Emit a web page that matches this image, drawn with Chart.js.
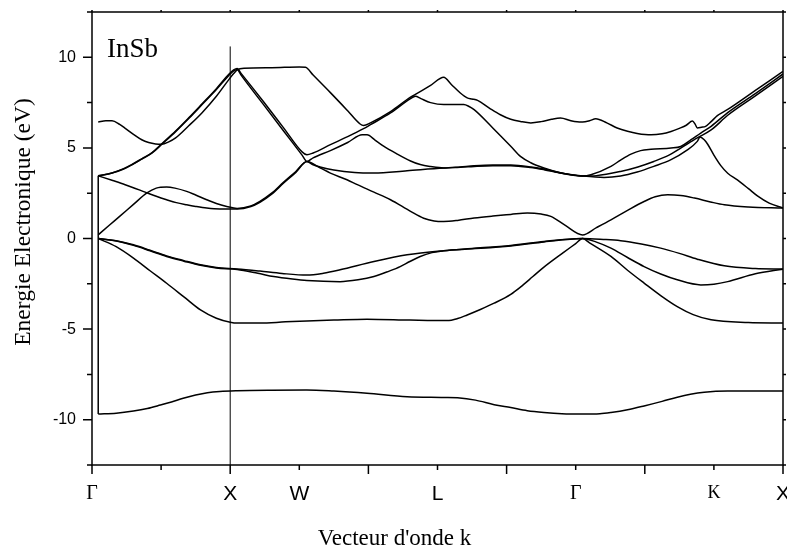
<!DOCTYPE html>
<html>
<head>
<meta charset="utf-8">
<title>InSb</title>
<script src="https://cdn.jsdelivr.net/npm/chart.js@4.4.1/dist/chart.umd.min.js"></script>
<style>
    html, body { margin: 0; padding: 0; background: #fff; }
    canvas { display: block; }
</style>
</head>
<body>
<canvas id="chart-bands" width="787" height="548"></canvas>
<script>
// k path positions of the labelled points and their names
const tickPos = [0, 2, 3, 5, 7, 9, 10];
const tickNames = ['Γ', 'X', 'W', 'L', 'Γ', 'K', 'X'];
const serifTicks = ['Γ', 'K'];

// bands as [k, energy (eV)]
const bandS = [[0.09,-9.69],[0.35,-9.64],[0.60,-9.52],[0.80,-9.38],[0.99,-9.19],[1.15,-9.02],[1.32,-8.82],[1.50,-8.64],[1.67,-8.51],[1.85,-8.44],[2.10,-8.40],[2.6,-8.37],[3.11,-8.36],[3.5,-8.42],[3.98,-8.54],[4.56,-8.73],[5.09,-8.77],[5.29,-8.79],[5.55,-8.92],[5.82,-9.17],[6.06,-9.33],[6.3,-9.5],[6.54,-9.6],[6.8,-9.67],[7.10,-9.69],[7.35,-9.67],[7.51,-9.6],[7.75,-9.45],[7.99,-9.24],[8.25,-8.99],[8.47,-8.76],[8.66,-8.6],[8.86,-8.49],[9.20,-8.42],[10.0,-8.41]];

const bandV1 = [[0.09,0],[0.35,-0.45],[0.60,-1.08],[0.84,-1.78],[1.08,-2.47],[1.33,-3.22],[1.57,-3.94],[1.8,-4.4],[2.0,-4.62],[2.10,-4.67],[2.43,-4.67],[2.8,-4.6],[3.11,-4.55],[3.5,-4.5],[3.98,-4.45],[4.6,-4.5],[5.14,-4.53],[5.29,-4.42],[5.43,-4.22],[5.62,-3.92],[5.82,-3.57],[6.06,-3.08],[6.2,-2.68],[6.38,-2.1],[6.54,-1.58],[6.82,-0.78],[7.0,-0.28],[7.10,0],[7.2,-0.24],[7.51,-0.99],[7.75,-1.75],[7.99,-2.46],[8.23,-3.15],[8.47,-3.76],[8.7,-4.2],[8.96,-4.49],[9.5,-4.64],[10,-4.67]];

const bandV2 = [[0.09,0],[0.35,-0.12],[0.60,-0.35],[0.84,-0.65],[1.08,-0.96],[1.33,-1.22],[1.57,-1.45],[1.8,-1.6],[2.10,-1.68],[2.43,-1.8],[2.75,-1.93],[3.11,-2.02],[3.35,-1.92],[3.59,-1.73],[4.08,-1.27],[4.56,-0.9],[5.09,-0.67],[5.5,-0.55],[6.06,-0.38],[6.54,-0.16],[6.85,-0.05],[7.10,0],[7.4,-0.05],[7.65,-0.12],[7.95,-0.3],[8.23,-0.53],[8.5,-0.82],[8.76,-1.14],[9.15,-1.51],[9.6,-1.66],[10,-1.69]];

const bandV3 = [[0.09,0],[0.35,-0.14],[0.60,-0.38],[0.84,-0.68],[1.08,-0.99],[1.33,-1.25],[1.57,-1.48],[1.8,-1.63],[2.10,-1.71],[2.4,-1.92],[2.63,-2.1],[2.9,-2.24],[3.11,-2.32],[3.59,-2.38],[3.85,-2.28],[4.08,-2.1],[4.3,-1.8],[4.46,-1.55],[4.6,-1.27],[4.75,-0.99],[4.92,-0.78],[5.09,-0.67],[5.5,-0.57],[6.06,-0.41],[6.54,-0.19],[6.85,-0.06],[7.10,0],[7.3,-0.2],[7.51,-0.53],[7.75,-1.05],[7.99,-1.55],[8.23,-1.96],[8.47,-2.28],[8.81,-2.56],[9.0,-2.52],[9.20,-2.38],[9.6,-1.95],[10,-1.69]];

const bandC1 = [[0.09,0.2],[0.25,0.73],[0.4,1.22],[0.6,1.88],[0.79,2.5],[0.93,2.78],[1.08,2.84],[1.2,2.78],[1.37,2.6],[1.5,2.4],[1.66,2.14],[1.8,1.93],[1.95,1.77],[2.10,1.66],[2.3,1.8],[2.43,2.05],[2.6,2.5],[2.77,3.1],[2.95,3.7],[3.11,4.25],[3.3,3.9],[3.45,3.61],[3.69,3.24],[3.84,2.97],[4.08,2.56],[4.32,2.14],[4.61,1.5],[4.80,1.12],[4.95,0.97],[5.09,0.94],[5.29,1.0],[5.53,1.13],[5.8,1.24],[6.06,1.33],[6.3,1.41],[6.5,1.35],[6.64,1.22],[6.85,0.72],[7.10,0.2],[7.3,0.6],[7.51,1.03],[7.75,1.55],[7.99,2.04],[8.15,2.3],[8.33,2.41],[8.52,2.37],[8.72,2.23],[8.95,2.02],[9.15,1.86],[9.5,1.74],[10,1.68]];

const bandC2 = [[0.09,3.46],[0.3,3.2],[0.48,2.97],[0.77,2.56],[0.93,2.33],[1.08,2.14],[1.22,1.98],[1.37,1.86],[1.5,1.77],[1.66,1.68],[1.85,1.63],[2.10,1.63],[2.3,1.77],[2.43,2.0],[2.6,2.45],[2.77,3.05],[2.95,3.65],[3.11,4.25],[3.2,4.07],[3.3,3.95],[3.5,3.78],[3.8,3.64],[4.08,3.61],[4.56,3.74],[5.09,3.89],[5.33,3.93],[5.53,3.98],[5.8,4.02],[6.06,4.02],[6.35,3.92],[6.54,3.8],[6.8,3.6],[7.10,3.45],[7.41,3.37],[7.65,3.45],[7.89,3.67],[8.13,3.98],[8.38,4.35],[8.6,4.85],[8.76,5.36],[8.80,5.6],[8.86,5.45],[8.91,5.2],[9.0,4.6],[9.10,4.02],[9.2,3.6],[9.34,3.23],[9.5,2.75],[9.63,2.35],[9.8,1.95],[10,1.68]];

const bandC3 = [[0.09,3.46],[0.29,3.61],[0.45,3.82],[0.58,4.07],[0.72,4.38],[0.87,4.72],[1.01,5.2],[1.21,5.9],[1.4,6.62],[1.59,7.38],[1.8,8.22],[1.98,9.0],[2.05,9.25],[2.10,9.33],[2.16,9.0],[2.48,7.40],[2.77,5.95],[3.04,4.6],[3.11,4.25],[3.2,4.45],[3.45,4.85],[3.7,5.3],[3.91,5.72],[3.98,5.72],[4.1,5.42],[4.22,5.1],[4.4,4.7],[4.61,4.28],[4.75,4.08],[4.90,3.97],[5.09,3.89],[5.33,3.95],[5.53,4.01],[5.8,4.05],[6.06,4.05],[6.35,3.95],[6.54,3.83],[6.8,3.62],[7.10,3.45],[7.3,3.47],[7.65,3.7],[7.9,3.95],[8.13,4.25],[8.35,4.6],[8.52,4.99],[8.76,5.55],[8.96,5.99],[9.20,6.8],[9.6,7.87],[10,8.95]];

const bandC4 = [[0.09,3.46],[0.29,3.62],[0.45,3.84],[0.58,4.09],[0.72,4.4],[0.87,4.74],[1.01,5.23],[1.21,5.93],[1.4,6.66],[1.59,7.42],[1.8,8.27],[1.98,9.06],[2.05,9.3],[2.10,9.38],[2.16,9.1],[2.48,7.56],[2.77,6.12],[3.04,4.78],[3.11,4.62],[3.2,4.72],[3.45,5.18],[3.7,5.62],[3.93,6.06],[4.03,6.28],[4.32,6.93],[4.61,7.72],[4.68,7.85],[4.76,7.72],[4.90,7.5],[5.09,7.39],[5.38,7.39],[5.45,7.3],[5.53,7.11],[5.8,6.1],[6.06,5.09],[6.20,4.53],[6.35,4.18],[6.54,3.89],[6.8,3.6],[7.02,3.46],[7.10,3.45],[7.22,3.52],[7.51,3.98],[7.65,4.33],[7.80,4.66],[7.94,4.85],[8.09,4.92],[8.38,4.99],[8.52,5.08],[8.67,5.45],[8.81,5.82],[8.96,6.19],[9.20,6.95],[9.6,8.0],[10,9.08]];

const bandTop = [[0.09,6.43],[0.2,6.5],[0.29,6.5],[0.4,6.3],[0.48,6.08],[0.6,5.75],[0.72,5.45],[0.82,5.3],[0.92,5.22],[1.01,5.2],[1.11,5.33],[1.21,5.55],[1.4,6.22],[1.59,6.93],[1.8,7.85],[1.98,8.77],[2.05,9.1],[2.10,9.3],[2.2,9.4],[2.6,9.43],[3.0,9.47],[3.09,9.45],[3.2,9.02],[3.45,8.05],[3.7,7.05],[3.88,6.32],[3.93,6.24],[4.03,6.38],[4.32,7.0],[4.61,7.8],[4.68,7.95],[4.9,8.45],[5.09,8.9],[5.2,8.5],[5.33,8.03],[5.43,7.76],[5.5,7.7],[5.58,7.62],[5.75,7.2],[5.91,6.83],[6.06,6.58],[6.20,6.46],[6.35,6.38],[6.5,6.45],[6.65,6.58],[6.78,6.65],[6.93,6.5],[7.02,6.44],[7.10,6.43],[7.2,6.5],[7.29,6.61],[7.45,6.38],[7.60,6.1],[7.75,5.92],[7.89,5.8],[8.09,5.72],[8.25,5.78],[8.38,5.91],[8.5,6.08],[8.60,6.25],[8.69,6.48],[8.73,6.3],[8.76,6.1],[8.82,6.14],[8.88,6.19],[8.96,6.45],[9.05,6.78],[9.20,7.12],[9.6,8.17],[10,9.22]];

// joining stroke at the start of the path, and the marker at X
const gammaStem = [[0.09,-9.69],[0.09,3.46]];
const markerX = [[2,-12.5],[2,10.6]];

const bands = [bandS, bandV1, bandV2, bandV3, bandC1, bandC2, bandC3, bandC4, bandTop];

function toPoints(arr) {
    return arr.map(([x, y]) => ({ x, y }));
}

function tickLabel(value) {
    const i = tickPos.indexOf(value);
    return i >= 0 ? tickNames[i] : '';
}

const frame = {
    id: 'frame',
    afterDraw(chart) {
        const { ctx, chartArea: a, scales } = chart;
        const x = scales.x;
        const y = scales.y;
        ctx.save();
        ctx.strokeStyle = '#000';
        ctx.lineWidth = 1.5;
        ctx.strokeRect(a.left, a.top, a.right - a.left, a.bottom - a.top);

        ctx.beginPath();
        y.ticks.forEach(t => {
            const py = y.getPixelForValue(t.value);
            const len = t.value % 5 === 0 ? 9 : 5;
            ctx.moveTo(a.left - len, py);
            ctx.lineTo(a.left, py);
            ctx.moveTo(a.right, py);
            ctx.lineTo(a.right + 3, py);
        });
        x.ticks.forEach(t => {
            const px = x.getPixelForValue(t.value);
            const len = t.value % 2 === 0 ? 9 : 5;
            ctx.moveTo(px, a.bottom);
            ctx.lineTo(px, a.bottom + len);
            ctx.moveTo(px, a.top);
            ctx.lineTo(px, a.top - 2);
        });
        ctx.stroke();

        ctx.fillStyle = '#000';
        ctx.textBaseline = 'alphabetic';
        ctx.font = '27px "Liberation Serif", "Times New Roman", serif';
        ctx.textAlign = 'left';
        ctx.fillText('InSb', 107, 57);

        ctx.font = '23px "Liberation Serif", "Times New Roman", serif';
        ctx.textAlign = 'center';
        ctx.fillText("Vecteur d'onde k", 394.5, 545);

        ctx.translate(30, 222);
        ctx.rotate(-Math.PI / 2);
        ctx.font = '23.5px "Liberation Serif", "Times New Roman", serif';
        ctx.fillText('Energie Electronique (eV)', 0, 0);
        ctx.restore();
    }
};

document.addEventListener('DOMContentLoaded', function () {
    const ctx = document.getElementById('chart-bands').getContext('2d');

    const datasets = bands.map(b => ({
        data: toPoints(b),
        borderColor: '#000',
        borderWidth: 1.5,
        cubicInterpolationMode: 'monotone'
    }));
    datasets.push({ data: toPoints(gammaStem), borderColor: '#000', borderWidth: 1.5, tension: 0 });
    datasets.push({ data: toPoints(markerX), borderColor: '#000', borderWidth: 1, tension: 0 });

    new Chart(ctx, {
        type: 'line',
        data: { datasets },
        options: {
            responsive: false,
            animation: false,
            layout: { padding: { top: 12, right: 4, left: 0, bottom: 0 } },
            elements: { point: { radius: 0 } },
            plugins: {
                legend: { display: false },
                tooltip: { enabled: false }
            },
            scales: {
                x: {
                    type: 'linear',
                    min: 0,
                    max: 10,
                    grid: { display: false },
                    border: { display: false },
                    ticks: {
                        stepSize: 1,
                        autoSkip: false,
                        maxRotation: 0,
                        padding: 9,
                        color: '#000',
                        font: c => {
                            const name = c.tick ? tickLabel(c.tick.value) : '';
                            if (name === 'K') return { family: '"Liberation Serif", serif', size: 18 };
                            if (serifTicks.includes(name)) return { family: '"Liberation Serif", serif', size: 20 };
                            return { family: '"Liberation Sans", Arial, sans-serif', size: 21 };
                        },
                        callback: v => tickLabel(v)
                    },
                    afterFit: s => { s.height = 83; s.paddingLeft = 0; s.paddingRight = 0; }
                },
                y: {
                    min: -12.5,
                    max: 12.5,
                    grid: { display: false },
                    border: { display: false },
                    ticks: {
                        stepSize: 2.5,
                        autoSkip: false,
                        padding: 8,
                        color: '#000',
                        font: { family: '"Liberation Sans", Arial, sans-serif', size: 16 },
                        callback: v => (v % 5 === 0 ? String(v) : '')
                    },
                    afterFit: s => { s.width = 92; s.paddingTop = 0; s.paddingBottom = 0; }
                }
            }
        },
        plugins: [frame]
    });
});
</script>
</body>
</html>
